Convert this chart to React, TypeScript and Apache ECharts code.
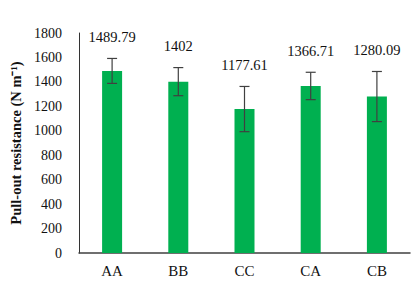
import React, { useEffect, useRef } from "react";
import * as echarts from "echarts";

const categories = ["AA", "BB", "CC", "CA", "CB"];
const means = [1489.79, 1402, 1177.61, 1366.71, 1280.09];
const errors = [102, 115, 185, 112, 205];
const yTicks = { min: 0, max: 1800, interval: 200 };

export default function App() {
  const ref = useRef<HTMLDivElement>(null);
  useEffect(() => {
    const chart = echarts.init(ref.current!, undefined, { renderer: "svg" });
    const font = "'Liberation Serif', 'Times New Roman', serif";
    chart.setOption({
      animation: false,
      textStyle: { fontFamily: font },
      grid: { left: 73, right: 1, top: 33, bottom: 37 },
      xAxis: {
        type: "category",
        data: categories,
        axisTick: { show: false },
        axisLine: { lineStyle: { color: "#404040", width: 1.5 } },
        axisLabel: { color: "#111", fontSize: 15, fontFamily: font, margin: 10 },
      },
      yAxis: {
        type: "value",
        min: yTicks.min,
        max: yTicks.max,
        interval: yTicks.interval,
        splitLine: { show: false },
        axisTick: { show: false },
        axisLine: { show: true, lineStyle: { color: "#333", width: 1 } },
        axisLabel: {
          color: "#111",
          fontSize: 14,
          fontFamily: font,
          margin: 17,
          formatter: (v: number) => String(v),
        },
        name: "Pull-out resistance (N m⁻¹)",
        nameLocation: "middle",
        nameGap: 56,
        nameRotate: 90,
        nameTextStyle: { fontSize: 14.5, fontWeight: "bold", color: "#111", fontFamily: font },
      },
      series: [
        {
          type: "bar",
          data: means,
          barWidth: 20,
          itemStyle: { color: "#00B050" },
        },
        {
          type: "custom",
          data: means.map((m, i) => [i, m - errors[i], m + errors[i], m]),
          renderItem: (params: any, api: any) => {
            const x = api.value(0);
            const lo = api.coord([x, api.value(1)]);
            const hi = api.coord([x, api.value(2)]);
            const hw = 5;
            const style = { stroke: "#404040", lineWidth: 1.2 };
            return {
              type: "group",
              children: [
                { type: "line", shape: { x1: lo[0], y1: lo[1], x2: hi[0], y2: hi[1] }, style },
                { type: "line", shape: { x1: hi[0] - hw, y1: hi[1], x2: hi[0] + hw, y2: hi[1] }, style },
                { type: "line", shape: { x1: lo[0] - hw, y1: lo[1], x2: lo[0] + hw, y2: lo[1] }, style },
                {
                  type: "text",
                  x: hi[0],
                  y: hi[1] - 14,
                  style: {
                    text: String(api.value(3)),
                    fill: "#111",
                    fontSize: 14.5,
                    fontFamily: font,
                    align: "center",
                    verticalAlign: "bottom",
                  },
                },
              ],
            };
          },
          z: 5,
        },
      ],
    });
    return () => chart.dispose();
  }, []);
  return <div ref={ref} style={{ width: 411, height: 290, position: "absolute", left: 0, top: 0, background: "#fff" }} />;
}
